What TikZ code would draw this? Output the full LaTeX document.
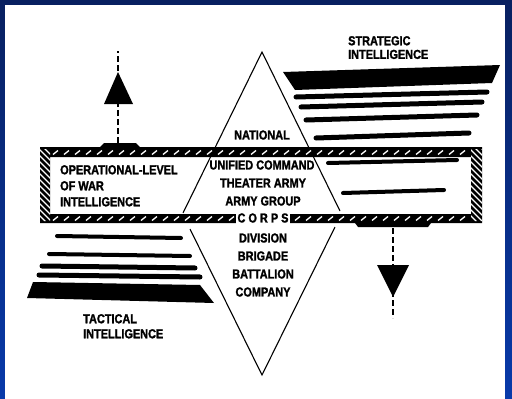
\documentclass[tikz,border=0pt]{standalone}
\usepackage{fontspec}
\setmainfont{Liberation Sans}[FakeStretch=0.84, BoldFeatures={FakeBold=1.6}]
\usepackage{tikz}
\definecolor{navytop}{RGB}{8,32,96}
\definecolor{navybot}{RGB}{8,58,170}

\begin{document}
\begin{tikzpicture}[x=1pt,y=-1pt]
  \tikzset{lbl/.style = {font=\bfseries\fontsize{13}{15}\selectfont, inner sep=0pt}}
  \tikzset{side/.style = {line width=1.1pt}}
  \tikzset{bar/.style = {line width=5pt, line cap=round}}
  \tikzset{flow/.style = {line width=1.6pt, dash pattern=on 6pt off 3pt}}
  \tikzset{hatch/.style = {white, line width=1.3pt}}
  % frame
  \useasboundingbox (0,0) rectangle (512,399);
  \shade[top color=navytop, bottom color=navybot] (0,0) rectangle (512,399);
  \fill[white] (5,5) rectangle (505,399);
  % diamond
  \coordinate (top) at (262,52);
  \coordinate (ul) at (183,213);
  \coordinate (ur) at (340,211);
  \coordinate (ll) at (190,229);
  \coordinate (lr) at (335,227);
  \coordinate (bot) at (262,375);
  \draw[side] (ul) -- (top) -- (ur);
  \draw[side] (ll) -- (bot) -- (lr);
  % strategic bars
  \fill (283,72) -- (500,65) -- (492,83) -- (295,90) -- cycle;
  \draw[bar] (296,97) -- (487,92);
  \draw[bar] (301,107) -- (482,102);
  \draw[bar] (306,120) -- (477,115);
  \draw[bar] (316,138) -- (469,133);
  \draw[bar, line width=4pt] (328,163) -- (457,160);
  \draw[bar, line width=4pt] (343,193) -- (444,190);
  % tactical bars
  \draw[bar, line width=4pt] (57,236) -- (181,238);
  \draw[bar, line width=4pt] (49,254) -- (190,256);
  \draw[bar] (42,266) -- (195,268);
  \draw[bar] (39,275) -- (200,277);
  \fill (33,282) -- (200,285) -- (214,303) -- (27,298) -- cycle;
  % band
  \fill[even odd rule] (40,147) rectangle (482,223) (50,157) rectangle (471,214);
  \fill (100,147) -- (104,143) -- (136,143) -- (140,147) -- cycle;
  \fill (355,223) -- (358,227) -- (428,227) -- (431,223) -- cycle;
  \foreach \x in {53,64,...,465} \draw[hatch] (\x,154.5) -- ++(5,-4);
  \foreach \x in {53,64,...,465} \draw[hatch] (\x,220.5) -- ++(5,-4);
  \begin{scope}
    \clip (40,149) rectangle (50,221) (471,149) rectangle (482,221);
    \foreach \y in {130,136,...,226} {
      \draw[hatch] (38,\y) -- ++(14,14);
      \draw[hatch] (469,\y) -- ++(15,15);
    }
  \end{scope}
  % arrows
  \coordinate (upfoot) at (118,143);
  \coordinate (uptip) at (118,51);
  \draw[flow] (upfoot) -- (uptip);
  \fill (118,72) -- (133,104) -- (104,104) -- cycle;
  \coordinate (dnfoot) at (393,228);
  \coordinate (dntip) at (393,318);
  \draw[flow] (dnfoot) -- (dntip);
  \fill (377,265) -- (409,265) -- (393,297) -- cycle;
  % labels
  \node[lbl] (national) at (262,135) {NATIONAL};
  \node[lbl] (unified) at (262,165) {UNIFIED COMMAND};
  \node[lbl] (theater) at (263,183) {THEATER ARMY};
  \node[lbl] (armygrp) at (263,201) {ARMY GROUP};
  \node[lbl, fill=white, inner xsep=2pt, inner ysep=3pt] (corps) at (263,218) {C O R P S};
  \node[lbl] (division) at (263,238) {DIVISION};
  \node[lbl] (brigade) at (263,256) {BRIGADE};
  \node[lbl] (battalion) at (263,274) {BATTALION};
  \node[lbl] (company) at (263,292) {COMPANY};
  \node[lbl, font=\bfseries\fontsize{13}{13.6}\selectfont, anchor=north west, align=left] (strat) at (348,36) {STRATEGIC\\INTELLIGENCE};
  \node[lbl, anchor=north west, align=left] (oper) at (60,165) {OPERATIONAL-LEVEL\\[1pt]OF WAR\\[1pt]INTELLIGENCE};
  \node[lbl, anchor=north west, align=left] (tact) at (83,314) {TACTICAL\\INTELLIGENCE};
\end{tikzpicture}
\end{document}
